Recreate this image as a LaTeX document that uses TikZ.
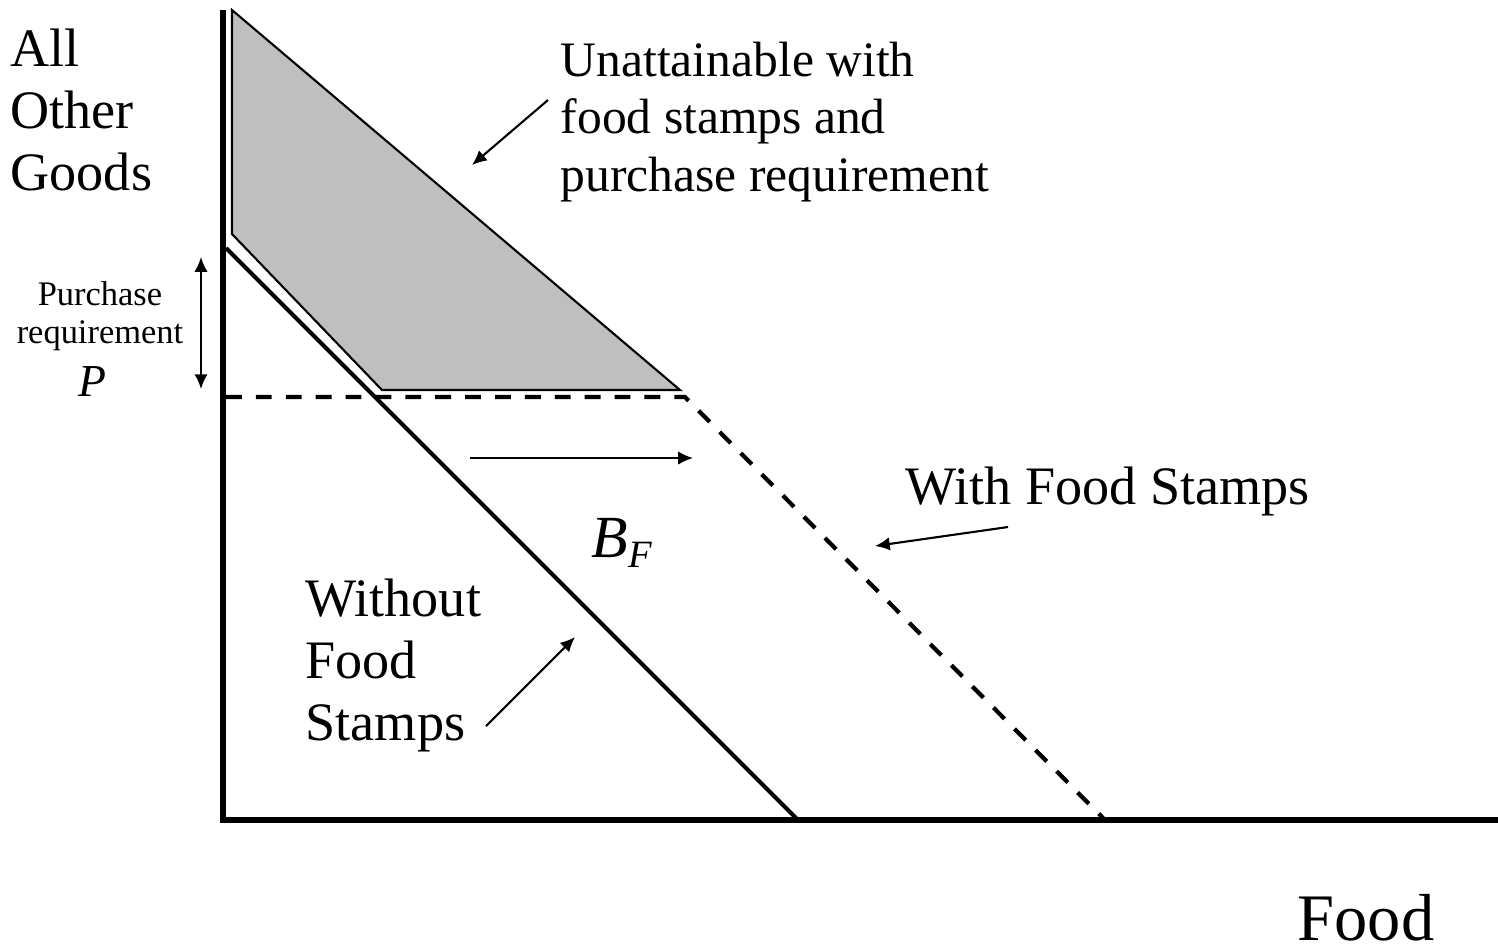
\documentclass[tikz,border=0pt]{standalone}
\usepackage{fontspec}
\setmainfont{Liberation Serif}
\usetikzlibrary{arrows.meta}

\begin{document}
\begin{tikzpicture}[
    x=0.01cm, y=-0.01cm,
    font=\fontsize{15.4}{17.6}\selectfont,
    >={LaTeX[length=4.2pt, width=3.8pt]},
    axis/.style={line width=1.7pt},
    budget/.style={line width=1.2pt},
    stamps/.style={line width=1.2pt, dash pattern=on 4.5pt off 4pt},
    region/.style={draw, line width=0.6pt, fill=black!25},
    caption/.style={anchor=north west, inner sep=0pt, align=left},
    note/.style={->, line width=0.6pt}
]
\useasboundingbox (0,0) rectangle (1498,944);

% Coordinates
\coordinate (y_top) at (223,10);
\coordinate (origin) at (223,820);
\coordinate (x_end) at (1498,820);
\coordinate (old_top) at (226,248);
\coordinate (old_end) at (798,820);
\coordinate (p_level) at (226,397);
\coordinate (kink) at (685,397);
\coordinate (new_end) at (1105,820);

% Shaded region
\draw[region] (232,10) -- (232,234) -- (382,390) -- (680,390) -- cycle;

% Budget lines
\draw[budget] (old_top) -- (old_end);
\draw[stamps] (p_level) -- (kink) -- (new_end);
\draw[axis] (y_top) -- (origin) -- (x_end);

% Nodes
\node[caption] (goods) at (10,28) {All\\Other\\Goods};
\node[caption, font=\fontsize{18.9}{22}\selectfont] (food) at (1297,894) {Food};
\node[anchor=north, inner sep=0pt, align=center, font=\fontsize{9.8}{10.8}\selectfont] (purchase) at (100,281) {Purchase\\requirement};
\node[anchor=base, inner sep=0pt, font=\fontsize{13}{15}\selectfont\itshape] (p_label) at (92,396) {P};
\node[anchor=base west, inner sep=0pt, font=\fontsize{17}{19}\selectfont\itshape] (bf) at (591,557) {B\raisebox{-3pt}{\fontsize{11}{13}\selectfont F}};
\node[caption, font=\fontsize{14.1}{16.4}\selectfont] (unattain) at (560,41) {Unattainable with\\food stamps and\\purchase requirement};
\node[caption] (with_fs) at (905,466) {With Food Stamps};
\node[caption] (without_fs) at (305,578) {Without\\Food\\Stamps};

% Arrow ends
\coordinate (p_top) at (201,257);
\coordinate (p_bot) at (201,389);
\coordinate (shift_a) at (470,458);
\coordinate (shift_b) at (693,458);
\coordinate (un_a) at (548,100);
\coordinate (un_b) at (472,165);
\coordinate (wf_a) at (1008,527);
\coordinate (wf_b) at (875,546);
\coordinate (wo_a) at (486,726);
\coordinate (wo_b) at (575,637);

% Connections
\draw[<->, line width=0.6pt] (p_top) -- (p_bot);
\draw[note] (shift_a) -- (shift_b);
\draw[note] (un_a) -- (un_b);
\draw[note] (wf_a) -- (wf_b);
\draw[note] (wo_a) -- (wo_b);

\end{tikzpicture}
\end{document}
